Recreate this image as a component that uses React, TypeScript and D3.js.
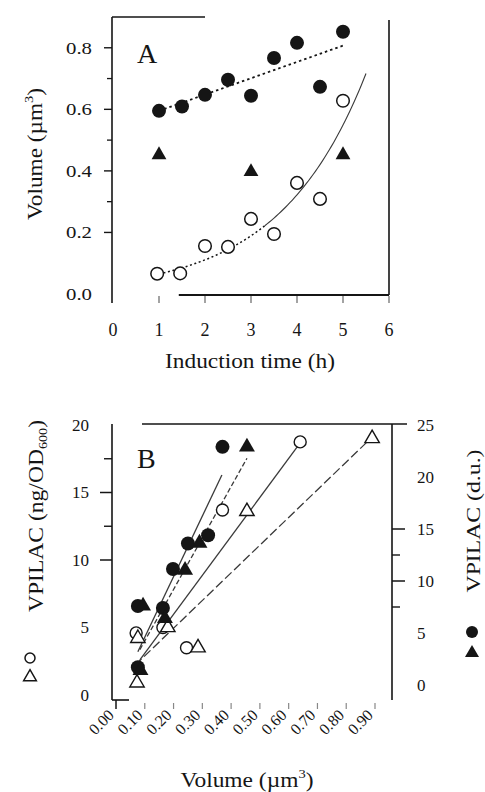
import * as d3 from 'd3';

// ---- panel A: volume vs induction time ----
const hoursA = [1, 1.5, 2, 2.5, 3, 3.5, 4, 4.5, 5];
const volFilledA = [0.595, 0.609, 0.647, 0.696, 0.644, 0.767, 0.816, 0.673, 0.852];
const hoursOpenA = [0.96, 1.46, 2, 2.5, 3, 3.5, 4, 4.5, 5];
const volOpenA = [0.066, 0.067, 0.156, 0.153, 0.244, 0.195, 0.361, 0.309, 0.628];
const hoursTriA = [1, 3, 5];
const volTriA = [0.452, 0.397, 0.452];
const linFitA = { slope: 0.053, intercept: 0.542, from: 1, to: 5 };
const expFitA = { a: 0.0382, b: 0.533, from: 1, dottedTo: 3.3, to: 5.52 };
const xTicksA = [0, 1, 2, 3, 4, 5, 6];
const yTicksA = [0, 0.2, 0.4, 0.6, 0.8];
const yMinorA = [0.3, 0.5, 0.7];

// ---- panel B: VPILAC vs volume ----
const volCircB = [0.076, 0.076, 0.163, 0.198, 0.25, 0.32, 0.37];
const duCircB = [1.7, 7.6, 7.4, 11.15, 13.6, 14.4, 22.9];
const volTriB = [0.085, 0.094, 0.17, 0.24, 0.29, 0.455];
const duTriB = [1.4, 7.6, 6.4, 11.05, 13.65, 22.9];
const volOpenCircB = [0.07, 0.163, 0.245, 0.37, 0.64];
const ngOpenCircB = [4.6, 5.0, 3.5, 13.7, 18.75];
const volOpenTriB = [0.073, 0.076, 0.18, 0.285, 0.455, 0.89];
const ngOpenTriB = [0.9, 4.2, 5.0, 3.5, 13.6, 19.0];
// fitted lines: [x0, y0, x1, y1]
const fitCircB = [0.076, 3.2, 0.368, 20.2];
const fitTriB = [0.083, 3.4, 0.455, 21.8];
const fitOpenCircB = [0.083, 2.6, 0.64, 18.67];
const fitOpenTriB = [0.066, 2.2, 0.89, 19.1];
const xTicksB = [0, 0.1, 0.2, 0.3, 0.4, 0.5, 0.6, 0.7, 0.8, 0.9];
const xTickLabelsB = ['0.00', '0.10', '0.20', '0.30', '0.40', '0.50', '0.60', '0.70', '0.80', '0.90'];
const yLabelsBL = [0, 5, 10, 15, 20];
const yMajorBL = [10, 15];
const yMinorBL = [12.5, 17.5];
const yLabelsBR = [0, 5, 10, 15, 20, 25];
const yMajorBR = [10, 15];
const yMinorBR = [7.5, 12.5];

const FONT = '"Times New Roman", "Liberation Serif", Times, serif';
const INK = '#151515';
const LINE = '#3a3a3a';

const tri = (size: number) => d3.symbol(d3.symbolTriangle, size)() as string;

export default function App() {
  const xA = d3.scaleLinear().domain([0, 6]).range([113, 389]);
  const yA = d3.scaleLinear().domain([0, 0.9]).range([294, 17]);

  const xB = d3.scaleLinear().domain([0, 0.9]).range([116, 375]);
  const yBL = d3.scaleLinear().domain([0, 20]).range([695, 425]);
  const yBR = d3.scaleLinear().domain([0, 25]).range([685, 425]);

  const lineA = d3.line<number>().x(t => xA(t)).y(t => yA(linFitA.intercept + linFitA.slope * t));
  const expLine = d3.line<number>().x(t => xA(t)).y(t => yA(expFitA.a * Math.exp(expFitA.b * t)));
  const dottedPart = d3.range(expFitA.from, expFitA.dottedTo + 0.001, 0.05);
  const solidPart = d3.range(expFitA.dottedTo, expFitA.to + 0.001, 0.05);

  const fitLine = (f: number[], y: d3.ScaleLinear<number, number>, dash: string | undefined, key: string) => (
    <line key={key} x1={xB(f[0])} y1={y(f[1])} x2={xB(f[2])} y2={y(f[3])}
      stroke={LINE} strokeWidth={1.3} strokeDasharray={dash} />
  );

  return (
    <svg width={485} height={792} style={{ position: 'absolute', left: 0, top: 0, background: '#fff' }}
      fontFamily={FONT}>
      <rect width={485} height={792} fill="#fff" />

      {/* ================= Panel A ================= */}
      <g>
        <line x1={xA(0) - 1} y1={yA(0.9)} x2={xA(0) - 1} y2={303} stroke={INK} strokeWidth={1.6} />
        <line x1={xA(0) - 1} y1={yA(0.9)} x2={xA(2)} y2={yA(0.9)} stroke={INK} strokeWidth={1.6} />
        <line x1={xA(6)} y1={20} x2={xA(6)} y2={yA(0) + 1} stroke={INK} strokeWidth={1.6} />
        <line x1={xA(1.43)} y1={yA(0) + 1} x2={xA(6)} y2={yA(0) + 1} stroke={INK} strokeWidth={1.8} />

        {yTicksA.filter(v => v > 0).map(v => (
          <line key={'ya' + v} x1={xA(0) - 9} x2={xA(0) - 1} y1={yA(v)} y2={yA(v)} stroke={INK} strokeWidth={1.4} />
        ))}
        {yMinorA.map(v => (
          <line key={'yam' + v} x1={xA(0) - 6} x2={xA(0) - 1} y1={yA(v)} y2={yA(v)} stroke={INK} strokeWidth={1.3} />
        ))}
        {yTicksA.map(v => (
          <text key={'yal' + v} x={92} y={yA(v)} dy="0.35em" textAnchor="end" fontSize={17} fill={INK}
            textLength={26} lengthAdjust="spacingAndGlyphs">{v.toFixed(1)}</text>
        ))}
        {xTicksA.filter(v => v > 0).map(v => (
          <line key={'xa' + v} x1={xA(v)} x2={xA(v)} y1={yA(0) + 2} y2={303} stroke="#666" strokeWidth={1.2} />
        ))}
        {xTicksA.map(v => (
          <text key={'xal' + v} x={xA(v)} y={336} textAnchor="middle" fontSize={18} fill={INK}>{v}</text>
        ))}

        <text x={250} y={368} textAnchor="middle" fontSize={22} fill={INK}
          textLength={170} lengthAdjust="spacingAndGlyphs">Induction time (h)</text>
        <text transform="translate(42,154) rotate(-90)" textAnchor="middle" fontSize={21} fill={INK}
          textLength={132} lengthAdjust="spacingAndGlyphs">
          <tspan>Volume (µm</tspan><tspan dy={-9} fontSize={13}>3</tspan><tspan dy={9}>)</tspan>
        </text>

        <text x={137} y={63} fontSize={28} fill={INK}>A</text>

        <path d={lineA([linFitA.from, linFitA.to]) as string} fill="none" stroke={INK}
          strokeWidth={1.8} strokeDasharray="2.5 3" />
        <path d={expLine(dottedPart) as string} fill="none" stroke={INK} strokeWidth={1.5} strokeDasharray="2 2.6" />
        <path d={expLine(solidPart) as string} fill="none" stroke={LINE} strokeWidth={1.1} />

        {hoursA.map((t, i) => (
          <circle key={'fa' + i} cx={xA(t)} cy={yA(volFilledA[i])} r={7} fill={INK} />
        ))}
        {hoursOpenA.map((t, i) => (
          <circle key={'oa' + i} cx={xA(t)} cy={yA(volOpenA[i])} r={6.3} fill="#fff" stroke={INK} strokeWidth={1.5} />
        ))}
        {hoursTriA.map((t, i) => (
          <path key={'ta' + i} d={tri(95)} transform={`translate(${xA(t)},${yA(volTriA[i])})`} fill={INK} />
        ))}
      </g>

      {/* ================= Panel B ================= */}
      <g>
        <line x1={112} y1={424} x2={112} y2={700} stroke={INK} strokeWidth={1.6} />
        <line x1={142} y1={424} x2={407} y2={424} stroke={INK} strokeWidth={1.6} />
        <line x1={392} y1={424} x2={392} y2={700} stroke={INK} strokeWidth={1.6} />
        <line x1={112} y1={700} x2={129} y2={700} stroke={INK} strokeWidth={1.6} />

        {yMajorBL.map(v => (
          <line key={'blm' + v} x1={100} x2={112} y1={yBL(v)} y2={yBL(v)} stroke={INK} strokeWidth={1.5} />
        ))}
        {yMinorBL.map(v => (
          <line key={'bln' + v} x1={104} x2={112} y1={yBL(v)} y2={yBL(v)} stroke={INK} strokeWidth={1.4} />
        ))}
        {yLabelsBL.map(v => (
          <text key={'bll' + v} x={89} y={yBL(v)} dy="0.35em" textAnchor="end" fontSize={17} fill={INK}>{v}</text>
        ))}
        {yMajorBR.map(v => (
          <line key={'brm' + v} x1={392} x2={405} y1={yBR(v)} y2={yBR(v)} stroke={INK} strokeWidth={1.5} />
        ))}
        {yMinorBR.map(v => (
          <line key={'brn' + v} x1={392} x2={400} y1={yBR(v)} y2={yBR(v)} stroke={INK} strokeWidth={1.4} />
        ))}
        {yLabelsBR.map(v => (
          <text key={'brl' + v} x={417} y={yBR(v)} dy="0.35em" textAnchor="start" fontSize={17} fill={INK}>{v}</text>
        ))}

        {xTicksB.map((v, i) => (
          <line key={'bx' + i} x1={xB(v)} x2={xB(v)} y1={i === 0 ? 700 : 703} y2={709}
            stroke={i === 0 ? INK : '#888'} strokeWidth={i === 0 ? 1.5 : 1.2} />
        ))}
        {xTickLabelsB.map((lab, i) => (
          <text key={'bxl' + i} transform={`translate(${xB(xTicksB[i]) - 1},${716}) rotate(-45)`} textAnchor="end"
            fontSize={16} fill={INK}>{lab}</text>
        ))}

        <text x={247} y={787} textAnchor="middle" fontSize={21} fill={INK}
          textLength={133} lengthAdjust="spacingAndGlyphs">
          <tspan>Volume (µm</tspan><tspan dy={-9} fontSize={13}>3</tspan><tspan dy={9}>)</tspan>
        </text>

        <text transform="translate(43,516) rotate(-90)" textAnchor="middle" fontSize={20} fill={INK}
          textLength={192} lengthAdjust="spacingAndGlyphs">
          <tspan>VPILAC (ng/OD</tspan><tspan dy={4} fontSize={12}>600</tspan><tspan dy={-4}>)</tspan>
        </text>
        <circle cx={30} cy={658} r={5} fill="#fff" stroke={INK} strokeWidth={1.5} />
        <path d={tri(70)} transform="translate(30,677)" fill="#fff" stroke={INK} strokeWidth={1.5} />

        <text transform="translate(480,521) rotate(-90)" textAnchor="middle" fontSize={19} fill={INK}
          textLength={143} lengthAdjust="spacingAndGlyphs">VPILAC (d.u.)</text>
        <circle cx={472} cy={632} r={6} fill={INK} />
        <path d={tri(85)} transform="translate(472,653)" fill={INK} />

        <text x={137} y={468} fontSize={28} fill={INK}>B</text>

        {fitLine(fitCircB, yBR, undefined, 'f1')}
        {fitLine(fitTriB, yBR, '5 2.5', 'f2')}
        {fitLine(fitOpenCircB, yBL, undefined, 'f3')}
        {fitLine(fitOpenTriB, yBL, '9 3.5', 'f4')}

        {volOpenCircB.map((v, i) => (
          <circle key={'boc' + i} cx={xB(v)} cy={yBL(ngOpenCircB[i])} r={6} fill="#fff" stroke={INK} strokeWidth={1.4} />
        ))}
        {volOpenTriB.map((v, i) => (
          <path key={'bot' + i} d={tri(90)} transform={`translate(${xB(v)},${yBL(ngOpenTriB[i])})`}
            fill="#fff" stroke={INK} strokeWidth={1.4} />
        ))}
        {volCircB.map((v, i) => (
          <circle key={'bfc' + i} cx={xB(v)} cy={yBR(duCircB[i])} r={7} fill={INK} />
        ))}
        {volTriB.map((v, i) => (
          <path key={'bft' + i} d={tri(110)} transform={`translate(${xB(v)},${yBR(duTriB[i])})`} fill={INK} />
        ))}
      </g>
    </svg>
  );
}
